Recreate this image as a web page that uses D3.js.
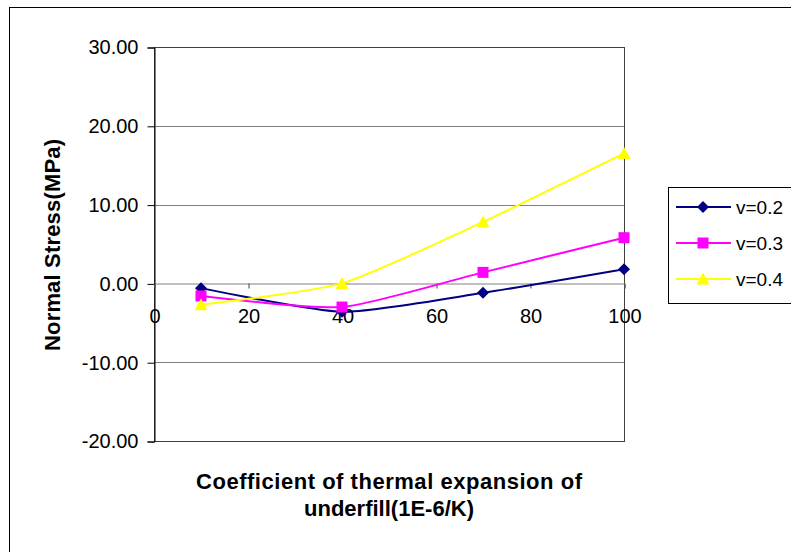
<!DOCTYPE html>
<html>
<head>
<meta charset="utf-8">
<script src="https://cdn.jsdelivr.net/npm/d3@7/dist/d3.min.js"></script>
<style>
  html, body { margin: 0; padding: 0; background: #ffffff; }
  svg { display: block; font-family: "Liberation Sans", Arial, sans-serif; }
</style>
</head>
<body>
<svg id="chart" width="791" height="552"></svg>
<script>
// Underfill CTE (1E-6/K) vs. normal stress (MPa) for three Poisson ratios
const cte = [10, 40, 70, 100];
const stressV02 = [-0.6, -3.6, -1.2, 1.8];
const stressV03 = [-1.6, -3.0, 1.4, 5.8];
const stressV04 = [-2.7, 0.0, 7.8, 16.5];
const seriesNames = ["v=0.2", "v=0.3", "v=0.4"];
const seriesColors = ["#000080", "#FF00FF", "#FFFF00"];
const seriesShapes = ["diamond", "square", "triangle"];
const xTicks = [0, 20, 40, 60, 80, 100];
const yTicks = [30, 20, 10, 0, -10, -20];

const series = [stressV02, stressV03, stressV04].map((vals, i) => ({
  name: seriesNames[i], color: seriesColors[i], shape: seriesShapes[i],
  points: cte.map((x, j) => ({ x, y: vals[j] }))
}));

const svg = d3.select("#chart");
const plot = { left: 154, right: 624, top: 47, bottom: 441 };
const font = "'Liberation Sans', Arial, sans-serif";

const x = d3.scaleLinear().domain([0, 100]).range([plot.left, plot.right]);
const y = d3.scaleLinear().domain([-20, 30]).range([plot.bottom, plot.top]);

// outer chart frame
svg.append("rect")
  .attr("x", 9.5).attr("y", 7.5).attr("width", 900).attr("height", 700)
  .attr("fill", "#fff").attr("stroke", "#000").attr("stroke-width", 1);

// plot area
svg.append("rect")
  .attr("x", plot.left).attr("y", plot.top)
  .attr("width", plot.right - plot.left).attr("height", plot.bottom - plot.top)
  .attr("fill", "#fff");

// horizontal gridlines
svg.append("g")
  .selectAll("line").data(yTicks.filter(d => d !== 0 && d !== -20)).join("line")
  .attr("x1", plot.left).attr("x2", plot.right)
  .attr("y1", d => Math.round(y(d)) + 0.5).attr("y2", d => Math.round(y(d)) + 0.5)
  .attr("stroke", "#808080").attr("stroke-width", 1);

// plot border
svg.append("rect")
  .attr("x", plot.left + 0.5).attr("y", Math.round(plot.top) + 0.5)
  .attr("width", plot.right - plot.left).attr("height", plot.bottom - plot.top)
  .attr("fill", "none").attr("stroke", "#404040").attr("stroke-width", 1);

// y axis (plain hyphen for negatives)
const fmtY = v => (v < 0 ? "-" : "") + Math.abs(v).toFixed(2);
const yAxis = d3.axisLeft(y).tickValues(yTicks).tickSize(7).tickPadding(9).tickFormat(fmtY);
const gy = svg.append("g").attr("transform", `translate(${plot.left + 0.5},0.5)`).call(yAxis);
gy.select(".domain").attr("stroke", "#000");
gy.selectAll(".tick line").attr("stroke", "#000");
gy.selectAll(".tick text")
  .attr("font-size", 20).attr("fill", "#000").attr("font-family", font);

// x axis drawn along the zero line
const xAxis = d3.axisBottom(x).tickValues(xTicks).tickSize(5).tickPadding(20)
  .tickFormat(d => String(d));
const gx = svg.append("g").attr("transform", `translate(0.5,${Math.round(y(0)) + 0.5})`).call(xAxis);
gx.select(".domain").attr("stroke", "#808080");
gx.selectAll(".tick line").attr("stroke", "#404040");
gx.selectAll(".tick text")
  .attr("font-size", 20).attr("fill", "#000").attr("font-family", font);

// smoothed series lines
const line = d3.line().x(d => x(d.x)).y(d => y(d.y)).curve(d3.curveCardinal.tension(0.4));
svg.append("g").selectAll("path").data(series).join("path")
  .attr("d", s => line(s.points))
  .attr("fill", "none").attr("stroke", s => s.color).attr("stroke-width", 2);

// markers
function marker(sel, shape, color) {
  let p;
  if (shape === "diamond") p = "M0,-6L6,0L0,6L-6,0Z";
  else if (shape === "square") p = "M-5.5,-5.5H5.5V5.5H-5.5Z";
  else p = "M0,-6.5L6.5,5.5L-6.5,5.5Z";
  sel.append("path").attr("d", p).attr("fill", color);
}
series.forEach(s => {
  const g = svg.append("g");
  s.points.forEach(pt => {
    const m = g.append("g").attr("transform", `translate(${x(pt.x)},${y(pt.y)})`);
    marker(m, s.shape, s.color);
  });
});

// axis titles
svg.append("text")
  .attr("transform", "translate(60,245) rotate(-90)")
  .attr("text-anchor", "middle").attr("font-weight", "bold")
  .attr("font-size", 22).attr("font-family", font)
  .attr("textLength", 212).attr("lengthAdjust", "spacing")
  .text("Normal Stress(MPa)");

const xt = svg.append("text")
  .attr("text-anchor", "middle").attr("font-weight", "bold")
  .attr("font-size", 22).attr("font-family", font);
xt.append("tspan").attr("x", 389).attr("y", 489)
  .attr("textLength", 386).attr("lengthAdjust", "spacing")
  .text("Coefficient of thermal expansion of");
xt.append("tspan").attr("x", 389).attr("y", 516)
  .attr("textLength", 170).attr("lengthAdjust", "spacing")
  .text("underfill(1E-6/K)");

// legend
const lg = svg.append("g");
lg.append("rect")
  .attr("x", 668.5).attr("y", 187.5).attr("width", 200).attr("height", 116)
  .attr("fill", "#fff").attr("stroke", "#000").attr("stroke-width", 1);
series.forEach((s, i) => {
  const cy = 207 + i * 36;
  lg.append("line").attr("x1", 676).attr("x2", 731).attr("y1", cy).attr("y2", cy)
    .attr("stroke", s.color).attr("stroke-width", 2);
  const m = lg.append("g").attr("transform", `translate(703,${cy})`);
  marker(m, s.shape, s.color);
  lg.append("text").attr("x", 736).attr("y", cy + 7)
    .attr("font-size", 19).attr("font-family", font).text(s.name);
});
</script>
</body>
</html>
